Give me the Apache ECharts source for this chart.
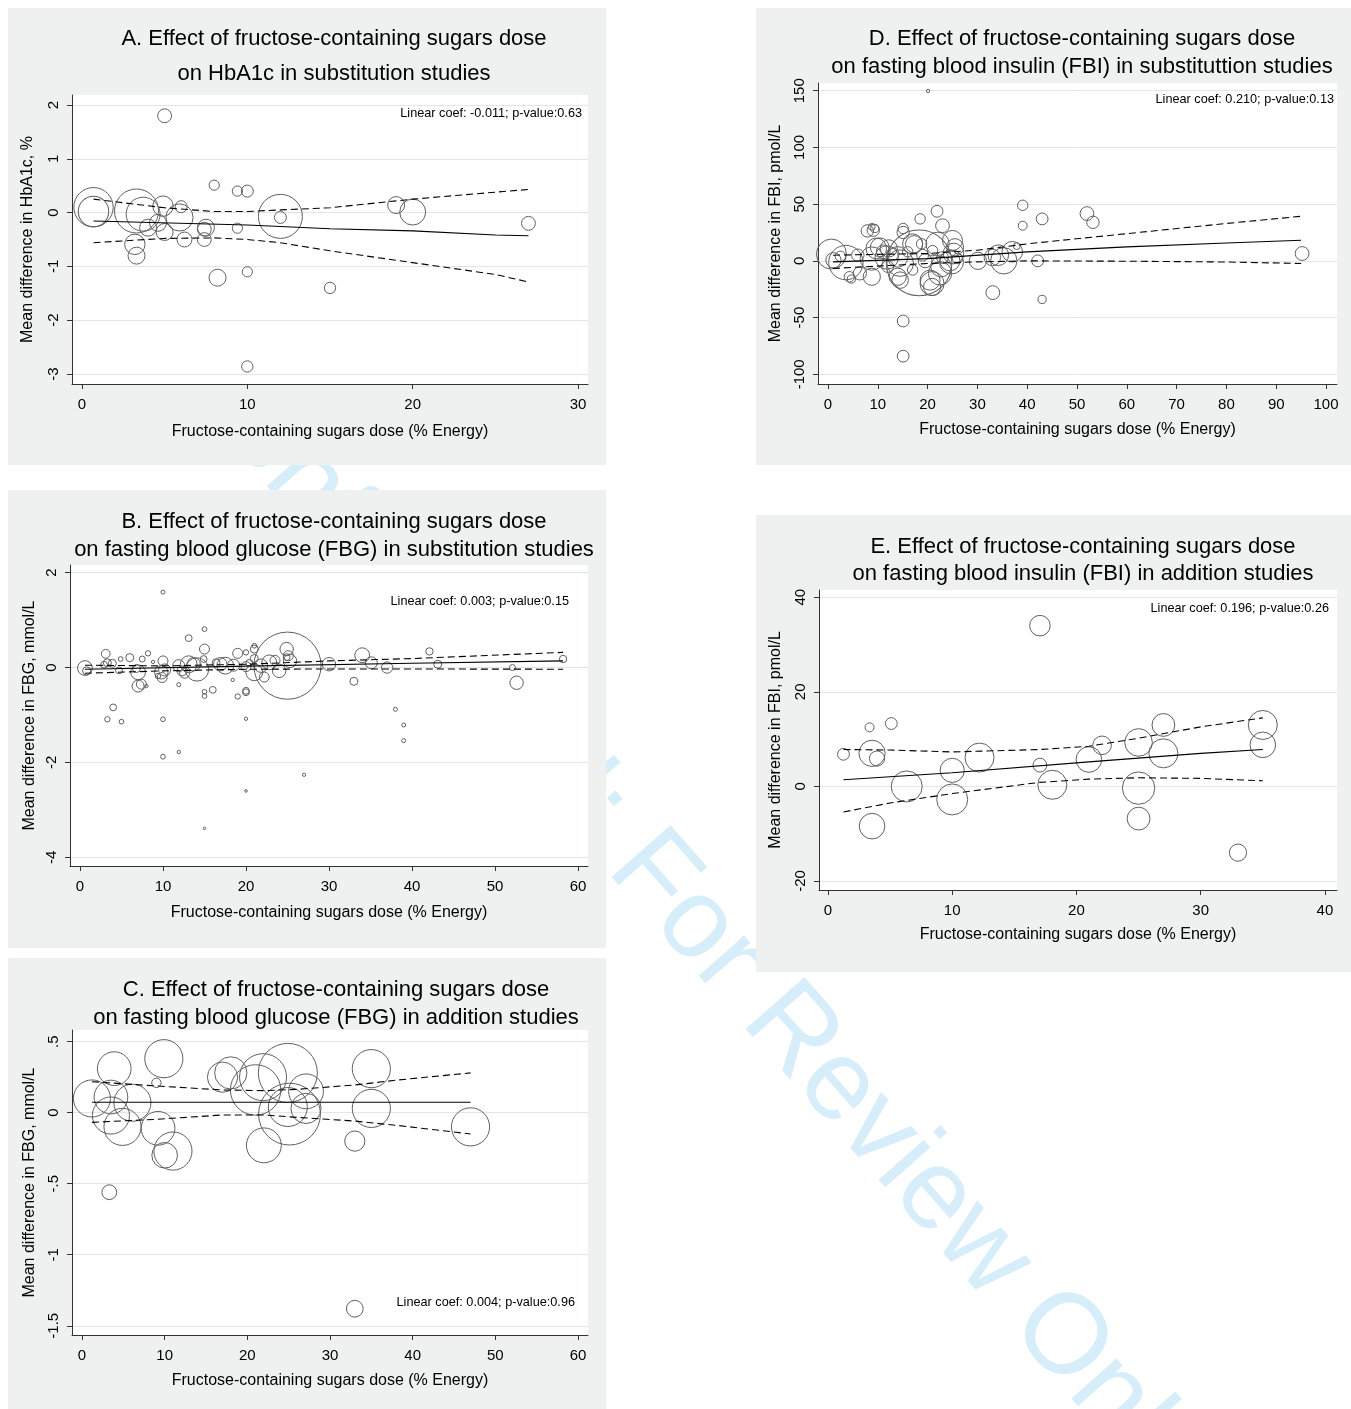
<!DOCTYPE html>
<html>
<head>
<meta charset="utf-8">
<title>Dose-response of fructose-containing sugars</title>
<script src="https://cdn.jsdelivr.net/npm/echarts@6/dist/echarts.min.js"></script>
<style>
  html, body { margin: 0; padding: 0; background: #ffffff; }
  #chart { width: 1351px; height: 1409px; }
</style>
</head>
<body>
<div id="chart"></div>
<script>
// ---------- Panel A: HbA1c, substitution studies ----------
const doseA = [5.0, 0.7, 0.7, 3.3, 3.7, 4.9, 6.0, 5.9, 4.6, 4.0, 5.0, 3.2, 3.3, 6.2, 8.0, 9.4, 10.0, 7.5, 7.4, 7.4, 9.4, 8.2, 10.0, 10.0, 12.0, 12.0, 15.0, 19.0, 20.0, 27.0];
const mdA   = [1.80, 0.10, 0.02, 0.03, -0.03, 0.12, 0.11, -0.09, -0.19, -0.28, -0.36, -0.59, -0.80, -0.50, 0.51, 0.40, 0.40, -0.28, -0.31, -0.50, -0.29, -1.21, -1.10, -2.86, -0.07, -0.09, -1.40, 0.14, 0.01, -0.20];
const wtA   = [12, 97, 58, 121, 72, 26, 9, 46, 18, 18, 18, 26, 18, 14, 6.5, 6.5, 9, 18, 12, 12, 6.5, 18, 6.5, 8, 121, 9, 8, 18, 42, 12];
const fitXA = [0.7, 10, 15, 20, 25, 27];
const fitYA = [-0.155, -0.23, -0.30, -0.34, -0.415, -0.43];
const ciXA  = [0.7, 5, 8, 10, 12, 15, 20, 25, 27];
const ciHiA = [0.25, 0.09, 0.02, 0.02, 0.05, 0.09, 0.25, 0.38, 0.43];
const ciLoA = [-0.56, -0.48, -0.47, -0.50, -0.56, -0.71, -0.93, -1.15, -1.29];
const xTickA = [0, 10, 20, 30];
const yTickA = [-3, -2, -1, 0, 1, 2];
const yTickLabA = ['-3', '-2', '-1', '0', '1', '2'];

// ---------- Panel B: FBG, substitution studies ----------
const doseB = [10.0, 15.0, 13.1, 15.0, 3.1, 6.0, 8.2, 4.9, 7.5, 8.8, 10.0, 0.6, 0.8, 3.3, 3.9, 4.7, 7.0, 7.0, 7.4, 8.0, 9.8, 9.9, 9.4, 11.9, 12.3, 11.9, 13.1, 14.1, 13.7, 14.9, 15.0, 15.0, 16.0, 16.9, 17.5, 19.0, 18.4, 19.0, 20.0, 20.0, 20.0, 21.0, 21.0, 21.0, 20.0, 20.4, 21.0, 21.8, 22.8, 24.0, 24.9, 25.1, 25.3, 25.0, 10.0, 3.3, 4.0, 5.0, 10.0, 11.9, 20.0, 20.0, 15.0, 27.0, 30.0, 33.0, 34.0, 35.1, 37.0, 38.0, 39.0, 39.0, 42.1, 43.1, 52.1, 52.6, 58.2, 2.9, 6.8, 10.2, 12.6, 16.4, 18.5, 22.2, 23.5, 24.9];
const mdB   = [1.59, 0.81, 0.62, 0.39, 0.29, 0.21, 0.30, 0.18, 0.18, 0.12, 0.14, -0.01, -0.07, 0.10, 0.09, -0.06, -0.10, -0.39, -0.35, -0.39, -0.10, -0.21, -0.18, 0.04, -0.07, -0.36, 0.07, -0.04, 0.07, 0.18, -0.51, -0.60, -0.47, 0.07, 0.04, 0.30, -0.26, -0.61, -0.49, -0.52, 0.32, 0.46, 0.39, 0.19, 0.02, 0.10, -0.10, 0.04, 0.11, -0.07, 0.39, 0.25, 0.14, 0.04, -1.09, -1.09, -0.84, -1.14, -1.88, -1.78, -1.08, -2.60, -3.39, -2.26, 0.07, -0.29, 0.26, 0.10, 0.00, -0.88, -1.21, -1.54, 0.34, 0.07, 0.00, -0.32, 0.18, 0.06, -0.02, -0.05, -0.12, 0.10, 0.05, -0.20, 0.15, 0.22];
const wtB   = [1, 1.4, 2.9, 6.25, 4.8, 4, 1.8, 1.4, 2.25, 0.7, 6.25, 13.7, 4, 4, 4, 2.9, 13.7, 9, 6.25, 0.7, 11.2, 6.25, 1.8, 9, 6.25, 1, 17.6, 34, 11.2, 2.9, 1.4, 1.4, 2.9, 11.2, 17.6, 6.25, 0.7, 1.8, 2.9, 2.9, 1.8, 1.4, 4, 4, 6.25, 2.9, 17.6, 11.2, 13.7, 11.2, 11.2, 6.25, 11.2, 282, 1.4, 1.8, 2.9, 1.4, 1.4, 0.7, 0.7, 0.42, 0.42, 0.7, 11.2, 4, 13.7, 9, 8, 1, 1, 1, 3.4, 4, 2.25, 11.2, 3.4, 2.9, 4, 9, 6.25, 4, 9, 6.25, 6.25, 2.9];
const fitXB = [0.6, 20, 40, 58.2];
const fitYB = [-0.035, 0.03, 0.09, 0.14];
const ciXB  = [0.6, 10, 20, 30, 40, 58.2];
const ciHiB = [0.05, 0.035, 0.07, 0.14, 0.19, 0.32];
const ciLoB = [-0.12, -0.07, -0.035, -0.03, -0.03, -0.035];
const xTickB = [0, 10, 20, 30, 40, 50, 60];
const yTickB = [-4, -2, 0, 2];
const yTickLabB = ['-4', '-2', '0', '2'];

// ---------- Panel C: FBG, addition studies ----------
const doseC = [1.2, 3.5, 3.9, 3.5, 6.1, 4.9, 9.0, 9.9, 9.2, 10.0, 11.0, 3.3, 17.0, 18.0, 21.0, 21.9, 24.9, 25.1, 24.9, 27.1, 27.1, 22.0, 35.0, 35.0, 33.0, 33.0, 47.0];
const mdC   = [0.10, 0.11, 0.31, -0.02, 0.07, -0.10, 0.21, 0.38, -0.11, -0.30, -0.27, -0.56, 0.25, 0.28, 0.16, 0.25, 0.28, -0.01, 0.04, 0.15, 0.03, -0.23, 0.31, 0.03, -0.20, -1.38, -0.10];
const wtC   = [86, 71, 71, 86, 86, 86, 5.5, 91, 71, 41, 91, 13.7, 57, 65, 159, 138, 218, 239, 95, 76, 57, 76, 91, 91, 25.5, 17.6, 91];
const fitXC = [1.2, 47];
const fitYC = [0.073, 0.073];
const ciXC  = [1.2, 9, 17, 21.9, 26, 33, 38.2, 47];
const ciHiC = [0.218, 0.188, 0.16, 0.155, 0.164, 0.195, 0.23, 0.28];
const ciLoC = [-0.068, -0.047, -0.016, -0.016, -0.033, -0.059, -0.09, -0.15];
const xTickC = [0, 10, 20, 30, 40, 50, 60];
const yTickC = [-1.5, -1, -0.5, 0, 0.5];
const yTickLabC = ['-1.5', '-1', '-.5', '0', '.5'];

// ---------- Panel D: FBI, substitution studies ----------
const doseD = [20.1, 39.1, 39.1, 43.0, 52.0, 53.2, 33.1, 43.0, 42.1, 95.2, 15.1, 15.1, 30.1, 34.2, 35.3, 37.0, 37.9, 21.9, 23.0, 18.5, 15.1, 15.1, 7.9, 9.1, 8.8, 0.7, 1.1, 3.6, 4.3, 4.7, 8.8, 18.3, 20.9, 20.9, 17.3, 12.2, 11.1, 9.7, 14.0, 14.0, 25.5, 25.2, 24.8, 22.7, 19.5, 18.8, 9.4, 8.8, 11.8, 10.4, 14.5, 17.0, 22.0, 25.0, 24.5, 22.5, 20.5, 14.5, 6.4, 13.0, 16.0, 19.0, 21.0, 23.0, 26.0, 2.5, 6.0, 12.0, 17.0, 33.0];
const mdD   = [149.7, 49, 31, 37, 41.7, 34, -28, -34, 0, 6.5, -53, -84, 0, 5, 0, 8, 13, 43.7, 31, 37, 28.5, 25, 26.4, 27, 30, 6, 0.6, -1.5, -14, -16, -14, -1.8, -20, -23, 14.7, 11, 8, 11, 3.5, -14, 12, 6.5, -1, -5, 0, 15, 28.5, 2, 3, 12, -2, 15, 15, 18, 0, -11, -17, -17, -11, 6, 8, 5, 9, 3, 2, 4, 5, -5, -8, 3];
const wtD   = [0.7, 6.8, 5, 8.7, 11.9, 9.6, 11.9, 4.2, 8.7, 11.9, 8.7, 8.7, 18.5, 26.5, 43, 26.5, 2.9, 8.7, 11.9, 6.8, 6.8, 9.6, 9.6, 9.6, 2.9, 56, 14.4, 74, 6.8, 4.2, 18.5, 269, 36, 18.5, 18.5, 18.5, 11.9, 26.5, 26.5, 18.5, 18.5, 26.5, 36, 26.5, 11.9, 6.8, 4.2, 34, 34, 22, 44, 25, 34, 25, 25, 34, 25, 17, 11, 9.6, 6.8, 8.7, 6.8, 8.7, 6.8, 6.8, 9.6, 8.7, 6.8, 17];
const fitXD = [1, 20, 40, 60, 80, 95];
const fitYD = [-0.9, 2, 7.9, 12.3, 15.8, 18.2];
const ciXD  = [1, 20, 30, 40, 60, 80, 95];
const ciHiD = [5, 6.5, 9.4, 15, 24, 33, 39.3];
const ciLoD = [-6.7, -2.3, -0.9, 0, -0.3, -1, -2.3];
const xTickD = [0, 10, 20, 30, 40, 50, 60, 70, 80, 90, 100];
const yTickD = [-100, -50, 0, 50, 100, 150];
const yTickLabD = ['-100', '-50', '0', '50', '100', '150'];

// ---------- Panel E: FBI, addition studies ----------
const doseE = [1.25, 3.35, 3.55, 3.95, 5.1, 3.55, 6.34, 10.0, 10.0, 12.2, 17.06, 17.06, 18.06, 21.0, 22.06, 25.0, 25.0, 25.0, 27.0, 27.0, 33.0, 35.0, 35.0];
const mdE   = [6.8, 12.5, 7.0, 5.9, 13.3, -8.4, 0.0, 3.4, -2.75, 6.1, 34.0, 4.5, 0.35, 5.7, 8.7, 9.3, -0.35, -6.8, 13.0, 7.0, -14.0, 13.0, 8.8];
const wtE   = [8.7, 5, 43, 14.4, 8.7, 41, 60, 36.6, 60, 52.6, 26.5, 11.9, 52.6, 41, 21.6, 47.6, 65.6, 32.5, 32.5, 52.6, 18.5, 52.6, 41];
const fitXE = [1.25, 10, 21, 30, 35];
const fitYE = [1.4, 2.9, 5.2, 7.0, 7.8];
const ciXE  = [1.25, 5, 10, 17, 21, 25, 30, 35];
const ciHiE = [7.8, 7.7, 7.3, 7.8, 8.5, 10.2, 12.6, 14.5];
const ciLoE = [-5.4, -3.5, -1.5, 0.85, 1.55, 1.83, 1.7, 1.2];
const xTickE = [0, 10, 20, 30, 40];
const yTickE = [-20, 0, 20, 40];
const yTickLabE = ['-20', '0', '20', '40'];

// ---------- Text ----------
const xName = 'Fructose-containing sugars dose (% Energy)';
const titleA = ['A. Effect of fructose-containing sugars dose', 'on HbA1c in substitution studies'];
const titleB = ['B. Effect of fructose-containing sugars dose', 'on fasting blood glucose (FBG) in substitution studies'];
const titleC = ['C. Effect of fructose-containing sugars dose', 'on fasting blood glucose (FBG) in addition studies'];
const titleD = ['D. Effect of fructose-containing sugars dose', 'on fasting blood insulin (FBI) in substituttion studies'];
const titleE = ['E. Effect of fructose-containing sugars dose', 'on fasting blood insulin (FBI) in addition studies'];
const yNameA = 'Mean difference in HbA1c, %';
const yNameB = 'Mean difference in FBG, mmol/L';
const yNameC = 'Mean difference in FBG, mmol/L';
const yNameD = 'Mean difference in FBI, pmol/L';
const yNameE = 'Mean difference in FBI, pmol/L';
const noteA = 'Linear coef: -0.011; p-value:0.63';
const noteB = 'Linear coef: 0.003; p-value:0.15';
const noteC = 'Linear coef: 0.004; p-value:0.96';
const noteD = 'Linear coef: 0.210; p-value:0.13';
const noteE = 'Linear coef: 0.196; p-value:0.26';
const watermark = 'Confidential: For Review Only';

// ---------- Layout and styling ----------
const FONT = "'Liberation Sans', Arial, Helvetica, sans-serif";
const PANEL_BG = '#eff1f1';
const AXIS_COLOR = '#333333';
const GRID_COLOR = '#e4e6e6';
const MARKER_COLOR = '#606060';

const panels = [
  { dose: doseA, md: mdA, wt: wtA, fitX: fitXA, fitY: fitYA, ciX: ciXA, ciHi: ciHiA, ciLo: ciLoA,
    xTicks: xTickA, yTicks: yTickA, yLabels: yTickLabA, title: titleA, yName: yNameA, note: noteA,
    box: [8, 8, 598, 457], grid: [72, 95, 516, 289], xr: [-0.6, 30.6], yr: [-3.186, 2.186],
    titleX: 334, titleY: [37, 72], xGap: 40, yGap: 36, noteXY: [582, 112] },
  { dose: doseB, md: mdB, wt: wtB, fitX: fitXB, fitY: fitYB, ciX: ciXB, ciHi: ciHiB, ciLo: ciLoB,
    xTicks: xTickB, yTicks: yTickB, yLabels: yTickLabB, title: titleB, yName: yNameB, note: noteB,
    box: [8, 490, 598, 458], grid: [70, 565, 518, 301], xr: [-1.2, 61.2], yr: [-4.183, 2.162],
    titleX: 334, titleY: [520, 548], xGap: 39, yGap: 32, noteXY: [569, 600] },
  { dose: doseC, md: mdC, wt: wtC, fitX: fitXC, fitY: fitYC, ciX: ciXC, ciHi: ciHiC, ciLo: ciLoC,
    xTicks: xTickC, yTicks: yTickC, yLabels: yTickLabC, title: titleC, yName: yNameC, note: noteC,
    box: [8, 958, 598, 451], grid: [72, 1030, 516, 305], xr: [-1.21, 61.21], yr: [-1.565, 0.582],
    titleX: 336, titleY: [988, 1016], xGap: 38, yGap: 34, noteXY: [575, 1301] },
  { dose: doseD, md: mdD, wt: wtD, fitX: fitXD, fitY: fitYD, ciX: ciXD, ciHi: ciHiD, ciLo: ciLoD,
    xTicks: xTickD, yTicks: yTickD, yLabels: yTickLabD, title: titleD, yName: yNameD, note: noteD,
    box: [756, 8, 595, 457], grid: [818, 83, 519, 301], xr: [-2, 102.2], yr: [-108.55, 156.8],
    titleX: 1082, titleY: [37, 65], xGap: 38, yGap: 34, noteXY: [1334, 98] },
  { dose: doseE, md: mdE, wt: wtE, fitX: fitXE, fitY: fitYE, ciX: ciXE, ciHi: ciHiE, ciLo: ciLoE,
    xTicks: xTickE, yTicks: yTickE, yLabels: yTickLabE, title: titleE, yName: yNameE, note: noteE,
    box: [756, 515, 595, 457], grid: [819, 590, 518, 300], xr: [-0.72, 40.97], yr: [-21.9, 41.54],
    titleX: 1083, titleY: [545, 572], xGap: 37, yGap: 35, noteXY: [1329, 607] }
];

function labelFor(ticks, labels) {
  return function (v) {
    for (let i = 0; i < ticks.length; i++) {
      if (Math.abs(ticks[i] - v) < 1e-9) return labels[i];
    }
    return '';
  };
}

function pairs(xs, ys) { return xs.map((x, i) => [x, ys[i]]); }

const grids = [], xAxes = [], yAxes = [], series = [], graphics = [];

// Watermark sits underneath the grey panel backgrounds
graphics.push({
  type: 'text', x: 189, y: 350, rotation: -48.6 * Math.PI / 180, z: -20, silent: true,
  style: { text: watermark, fontSize: 114, fontFamily: FONT, fill: '#d6eefa',
           textAlign: 'left', textVerticalAlign: 'middle', align: 'left', verticalAlign: 'middle' }
});

panels.forEach((p, i) => {
  graphics.push({
    type: 'rect', z: -10, silent: true,
    shape: { x: p.box[0], y: p.box[1], width: p.box[2], height: p.box[3] },
    style: { fill: PANEL_BG }
  });
  p.title.forEach((line, k) => {
    graphics.push({
      type: 'text', x: p.titleX, y: p.titleY[k] + 2, z: 10, silent: true,
      style: { text: line, fontSize: 22, fontFamily: FONT, fill: '#000',
               textAlign: 'center', textVerticalAlign: 'middle', align: 'center', verticalAlign: 'middle' }
    });
  });
  graphics.push({
    type: 'text', x: p.noteXY[0], y: p.noteXY[1] + 1, z: 10, silent: true,
    style: { text: p.note, fontSize: 12.7, fontFamily: FONT, fill: '#000',
             textAlign: 'right', textVerticalAlign: 'middle', align: 'right', verticalAlign: 'middle' }
  });

  grids.push({
    left: p.grid[0], top: p.grid[1], width: p.grid[2], height: p.grid[3],
    show: true, backgroundColor: '#ffffff', borderWidth: 0,
    containLabel: false, outerBoundsMode: 'none'
  });

  xAxes.push({
    gridIndex: i, type: 'value', min: p.xr[0], max: p.xr[1],
    name: xName, nameLocation: 'middle', nameGap: p.xGap,
    nameTextStyle: { fontSize: 16, color: '#000', fontFamily: FONT },
    axisLine: { show: true, onZero: false, lineStyle: { color: AXIS_COLOR, width: 1 } },
    axisTick: { show: true, length: 5, customValues: p.xTicks, lineStyle: { color: AXIS_COLOR, width: 1 } },
    axisLabel: { show: true, customValues: p.xTicks, margin: 13, fontSize: 15, color: '#000', fontFamily: FONT,
                 formatter: v => String(v) },
    splitLine: { show: false }
  });

  yAxes.push({
    gridIndex: i, type: 'value', min: p.yr[0], max: p.yr[1],
    name: p.yName, nameLocation: 'middle', nameGap: p.yGap, nameRotate: 90,
    nameTextStyle: { fontSize: 16, color: '#000', fontFamily: FONT },
    axisLine: { show: true, onZero: false, lineStyle: { color: AXIS_COLOR, width: 1 } },
    axisTick: { show: true, length: 5, customValues: p.yTicks, lineStyle: { color: AXIS_COLOR, width: 1 } },
    axisLabel: { show: true, customValues: p.yTicks, rotate: 90, margin: 11, fontSize: 15, color: '#000',
                 fontFamily: FONT, formatter: labelFor(p.yTicks, p.yLabels) },
    splitLine: { show: true, lineStyle: { color: GRID_COLOR, width: 1 } }
  });

  // Study estimates, marker area proportional to study weight
  series.push({
    type: 'scatter', xAxisIndex: i, yAxisIndex: i, z: 2,
    data: p.dose.map((x, k) => [x, p.md[k], p.wt[k]]),
    symbol: 'circle',
    symbolSize: v => 4 * Math.sqrt(v[2]),
    itemStyle: { color: 'rgba(0,0,0,0)', borderColor: MARKER_COLOR, borderWidth: 1, opacity: 1 },
    emphasis: { disabled: true }, silent: true
  });
  // Meta-regression line and its confidence band
  const lineBase = { type: 'line', xAxisIndex: i, yAxisIndex: i, z: 3, symbol: 'none', showSymbol: false,
                     silent: true, emphasis: { disabled: true } };
  series.push(Object.assign({}, lineBase, {
    data: pairs(p.fitX, p.fitY), lineStyle: { color: '#000', width: 1.1, type: 'solid' }
  }));
  series.push(Object.assign({}, lineBase, {
    data: pairs(p.ciX, p.ciHi), lineStyle: { color: '#000', width: 1.1, type: [7, 4] }
  }));
  series.push(Object.assign({}, lineBase, {
    data: pairs(p.ciX, p.ciLo), lineStyle: { color: '#000', width: 1.1, type: [7, 4] }
  }));
});

const chart = echarts.init(document.getElementById('chart'), null, { renderer: 'canvas' });
chart.setOption({
  animation: false,
  backgroundColor: '#ffffff',
  textStyle: { fontFamily: FONT },
  grid: grids,
  xAxis: xAxes,
  yAxis: yAxes,
  series: series,
  graphic: { elements: graphics }
});
</script>
</body>
</html>
